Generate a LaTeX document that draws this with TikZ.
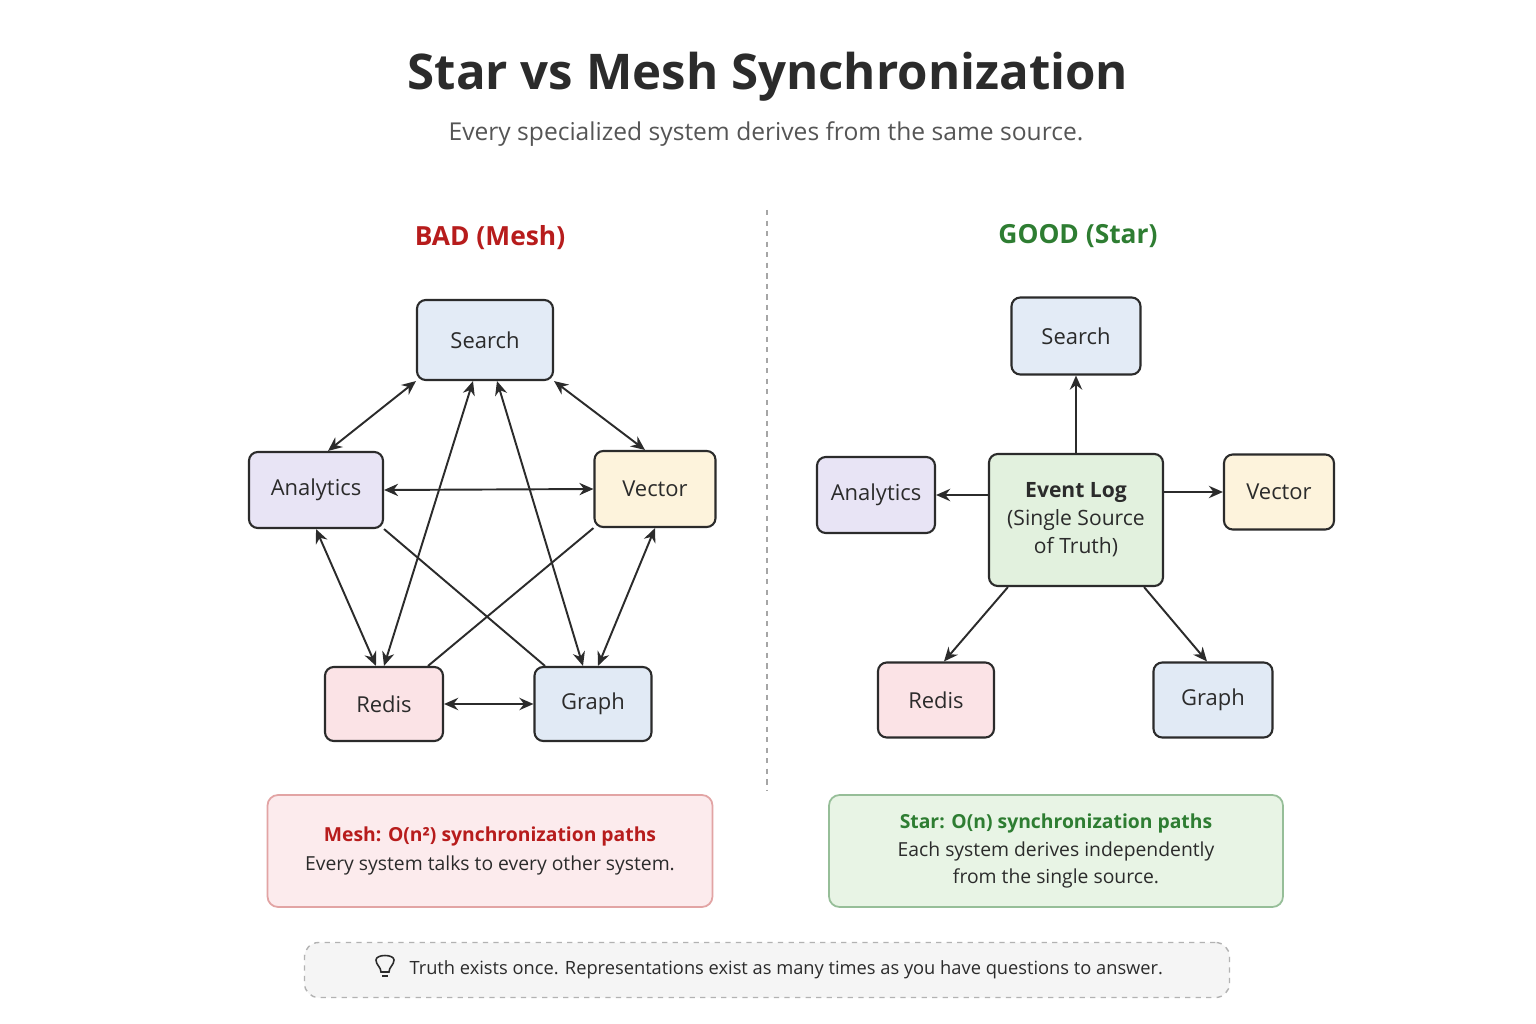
\documentclass[tikz,border=0pt]{standalone}
\usepackage{fontspec}
\setmainfont{Open Sans}
\usetikzlibrary{positioning,calc,arrows.meta}
\definecolor{ink}{HTML}{2B2B2B}
\definecolor{badred}{HTML}{B71C1C}
\definecolor{goodgreen}{HTML}{2E7D32}
\definecolor{fsearch}{HTML}{E3EBF6}
\definecolor{fanalytics}{HTML}{E8E4F5}
\definecolor{fvector}{HTML}{FDF3DC}
\definecolor{fredis}{HTML}{FBE3E6}
\definecolor{fgraph}{HTML}{E1EAF5}
\definecolor{flog}{HTML}{E2F1DE}
\newcommand\pxu{0.02cm}
\tikzset{
  sys/.style = {draw = ink, line width = 1.2pt, rounded corners = 5pt,
    minimum height = 76*\pxu, font = \fontsize{12.5}{15}\selectfont, text = ink},
  link/.style = {draw = ink, line width = 1.1pt},
  both/.style = {link, {Stealth[length = 8pt, width = 7pt]}-{Stealth[length = 8pt, width = 7pt]}},
  one/.style = {link, -{Stealth[length = 8pt, width = 7pt]}}
}

\begin{document}
\begin{tikzpicture}[x = 0.02cm, y = -0.02cm]
  \useasboundingbox[fill = white] (0, 0) rectangle (1536, 1024);

  % titles
  \node (title) at (768, 77) {\fontsize{28}{34}\selectfont\bfseries\color{ink} Star vs Mesh Synchronization};
  \node (sub) at (766, 134) {\fontsize{14}{17}\selectfont\color{ink!80} Every specialized system derives from the same source.};
  \node (bad) at (490, 238) {\fontsize{15}{19}\selectfont\bfseries\color{badred} BAD (Mesh)};
  \node (good) at (1078, 236) {\fontsize{15}{19}\selectfont\bfseries\color{goodgreen} GOOD (Star)};
  \draw[gray!70, dashed, line width = 0.8pt] (767, 210) -- (767, 790);

  % mesh
  \node[sys, fill = fsearch, minimum width = 136*\pxu, minimum height = 80*\pxu] (ms) at (485, 340) {Search};
  \node[sys, fill = fanalytics, minimum width = 134*\pxu] (ma) at (316, 490) {Analytics};
  \node[sys, fill = fvector, minimum width = 121*\pxu] (mv) at (655, 489) {Vector};
  \node[sys, fill = fredis, minimum width = 118*\pxu, minimum height = 74*\pxu] (mr) at (384, 704) {Redis};
  \node[sys, fill = fgraph, minimum width = 117*\pxu, minimum height = 74*\pxu] (mg) at (593, 704) {Graph};

  \draw[both] (ms.south west) -- ([xshift = 12*\pxu]ma.north);
  \draw[both] (ms.south east) -- ([xshift = -10*\pxu]mv.north);
  \draw[both] (ma.east) -- (mv.west);
  \draw[both] ([xshift = -12*\pxu]ms.south) -- (mr.north);
  \draw[both] ([xshift = 12*\pxu]ms.south) -- ([xshift = -10*\pxu]mg.north);
  \draw[both] (ma.south) -- ([xshift = -8*\pxu]mr.north);
  \draw[both] (mv.south) -- ([xshift = 5*\pxu]mg.north);
  \draw[both] (mr.east) -- (mg.west);
  \draw[link] (ma.south east) -- ([xshift = -48*\pxu]mg.north);
  \draw[link] (mv.south west) -- ([xshift = 44*\pxu]mr.north);

  % star
  \node[sys, fill = flog, minimum width = 174*\pxu, minimum height = 132*\pxu, align = center,
    font = \fontsize{12}{16}\selectfont] (log) at (1076, 520)
    {\textbf{Event Log}\\(Single Source\\of Truth)};
  \node[sys, fill = fsearch, minimum width = 129*\pxu, minimum height = 77*\pxu] (ss) at (1076, 336) {Search};
  \node[sys, fill = fanalytics, minimum width = 118*\pxu] (sa) at (876, 495) {Analytics};
  \node[sys, fill = fvector, minimum width = 110*\pxu, minimum height = 75*\pxu] (sv) at (1279, 492) {Vector};
  \node[sys, fill = fredis, minimum width = 116*\pxu, minimum height = 75*\pxu] (sr) at (936, 700) {Redis};
  \node[sys, fill = fgraph, minimum width = 119*\pxu, minimum height = 75*\pxu] (sg) at (1213, 700) {Graph};

  \draw[one] (log.north) -- (ss.south);
  \draw[one] (log.west |- sa.east) -- (sa.east);
  \draw[one] (log.east |- sv.west) -- (sv.west);
  \draw[one] ([xshift = 20*\pxu]log.south west) -- ([xshift = 8*\pxu]sr.north);
  \draw[one] ([xshift = -20*\pxu]log.south east) -- ([xshift = -6*\pxu]sg.north);

  % notes
  \node[draw = badred!40, fill = fredis!70, rounded corners = 6pt, line width = 1pt,
    minimum width = 445*\pxu, minimum height = 112*\pxu, align = center, text = ink,
    font = \fontsize{11}{17}\selectfont] (meshnote) at (490, 851)
    {\textcolor{badred}{\bfseries Mesh: O(n²) synchronization paths}\\Every system talks to every other system.};
  \node[draw = goodgreen!50, fill = flog!80, rounded corners = 6pt, line width = 1pt,
    minimum width = 454*\pxu, minimum height = 112*\pxu, align = center, text = ink,
    font = \fontsize{11}{15.5}\selectfont] (starnote) at (1056, 851)
    {\textcolor{goodgreen}{\bfseries Star: O(n) synchronization paths}\\Each system derives independently\\from the single source.};
  \node[draw = gray!60, dashed, fill = gray!8, rounded corners = 8pt, line width = 0.8pt,
    minimum width = 925*\pxu, minimum height = 55*\pxu, text = ink,
    font = \fontsize{10.4}{14}\selectfont] (tip) at (767, 970)
    {\hspace{22pt}Truth exists once. Representations exist as many times as you have questions to answer.};
  \begin{scope}[shift = {(385, 966)}, line width = 0.9pt, draw = ink]
    \draw (-4, 6) .. controls (-4, 1) and (-9, -1) .. (-9, -6)
      .. controls (-9, -12) and (9, -12) .. (9, -6)
      .. controls (9, -1) and (4, 1) .. (4, 6) -- cycle;
    \draw (-3, 10) -- (3, 10);
  \end{scope}
\end{tikzpicture}
\end{document}
